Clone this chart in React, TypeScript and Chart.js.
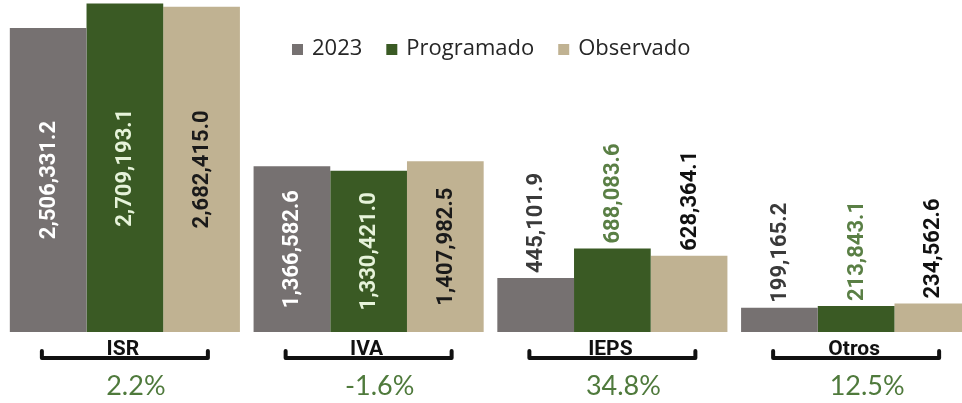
import React, { useEffect, useRef } from "react";
import { Chart, registerables } from "chart.js";

Chart.register(...registerables);

const categories = ["ISR", "IVA", "IEPS", "Otros"];
const series2023 = [2506331.2, 1366582.6, 445101.9, 199165.2];
const seriesProgramado = [2709193.1, 1330421.0, 688083.6, 213843.1];
const seriesObservado = [2682415.0, 1407982.5, 628364.1, 234562.6];
const variation = ["2.2%", "-1.6%", "34.8%", "12.5%"];
const seriesNames = ["2023", "Programado", "Observado"];

const COLORS = ["#767171", "#3a5a24", "#c0b292"];
const INSIDE_LABEL = ["#ffffff", "#e6f3da", "#1a1a1a"];
const OUTSIDE_LABEL = ["#3a3a3a", "#5a7f45", "#111111"];
const INSIDE_CATEGORIES = [0, 1];

const fmt = (v: number) =>
  v.toLocaleString("en-US", { minimumFractionDigits: 1, maximumFractionDigits: 1 });

const labelsPlugin = {
  id: "valueLabels",
  afterDatasetsDraw(chart: any) {
    const ctx = chart.ctx;
    ctx.save();
    ctx.font = "bold 22px Roboto, sans-serif";
    chart.data.datasets.forEach((ds: any, di: number) => {
      const meta = chart.getDatasetMeta(di);
      meta.data.forEach((bar: any, i: number) => {
        const v = ds.data[i];
        const text = fmt(v);
        const inside = INSIDE_CATEGORIES.includes(i);
        ctx.save();
        ctx.translate(bar.x, 0);
        ctx.rotate(-Math.PI / 2);
        ctx.textBaseline = "middle";
        if (inside) {
          const mid = (bar.y + bar.base) / 2;
          ctx.fillStyle = INSIDE_LABEL[di];
          ctx.textAlign = "center";
          ctx.fillText(text, -mid, 1);
        } else {
          ctx.fillStyle = OUTSIDE_LABEL[di];
          ctx.textAlign = "left";
          ctx.fillText(text, -(bar.y - 5), 1);
        }
        ctx.restore();
      });
    });
    ctx.restore();
  },
};

const decorPlugin = {
  id: "decor",
  afterDraw(chart: any) {
    const ctx = chart.ctx;
    const x = chart.scales.x;
    ctx.save();
    // legend
    ctx.font = "22px 'Open Sans', sans-serif";
    ctx.textBaseline = "middle";
    let lx = 292;
    const ly = 49;
    seriesNames.forEach((name, i) => {
      ctx.fillStyle = COLORS[i];
      ctx.fillRect(lx, ly - 5, 11, 11);
      lx += 20;
      ctx.fillStyle = "#262626";
      ctx.textAlign = "left";
      ctx.fillText(name, lx, ly);
      lx += ctx.measureText(name).width + 24;
    });
    // category brackets
    categories.forEach((cat, i) => {
      const cx = x.getPixelForValue(i);
      const half = 83;
      const by = 358;
      ctx.strokeStyle = "#111111";
      ctx.lineWidth = 4;
      ctx.lineCap = "round";
      ctx.lineJoin = "round";
      ctx.beginPath();
      ctx.moveTo(cx - half, by - 7);
      ctx.lineTo(cx - half, by);
      ctx.lineTo(cx + half, by);
      ctx.lineTo(cx + half, by - 7);
      ctx.stroke();
      ctx.fillStyle = "#111111";
      ctx.textAlign = "center";
      ctx.textBaseline = "alphabetic";
      ctx.font = "bold 21px Roboto, sans-serif";
      ctx.fillText(cat, cx - 2, 355);
      ctx.fillStyle = "#4f7a3c";
      ctx.font = "27px Lato, 'Open Sans', sans-serif";
      ctx.fillText(variation[i], cx + 11, 395);
    });
    ctx.restore();
  },
};

export default function App() {
  const ref = useRef<HTMLCanvasElement | null>(null);
  useEffect(() => {
    if (!ref.current) return;
    const chart = new Chart(ref.current, {
      type: "bar",
      data: {
        labels: categories,
        datasets: [series2023, seriesProgramado, seriesObservado].map((d, i) => ({
          label: seriesNames[i],
          data: d,
          backgroundColor: COLORS[i],
          borderWidth: 0,
          categoryPercentage: 0.944,
          barPercentage: 1,
        })),
      },
      options: {
        responsive: false,
        animation: false,
        layout: { padding: { left: 3, right: 2, top: 0, bottom: 71 } },
        plugins: { legend: { display: false }, tooltip: { enabled: false }, title: { display: false } },
        scales: {
          x: { display: false, grid: { display: false } },
          y: { display: false, min: 0, max: 2738000, grid: { display: false } },
        },
      },
      plugins: [labelsPlugin, decorPlugin],
    });
    return () => chart.destroy();
  }, []);
  return (
    <div style={{ position: "fixed", top: 0, left: 0, width: 962, height: 403, overflow: "hidden", background: "#ffffff" }}>
      <canvas ref={ref} width={980} height={403} style={{ width: 980, height: 403, display: "block" }} />
    </div>
  );
}
